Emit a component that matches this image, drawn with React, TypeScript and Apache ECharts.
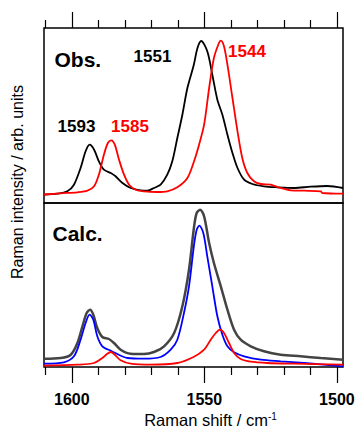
import React, { useEffect, useRef } from 'react';
import * as echarts from 'echarts';

const FONT = '"Liberation Sans", Arial, Helvetica, sans-serif';

const X_MIN = 1497.7;
const X_MAX = 1610.5;
const majorTicks = [1500, 1550, 1600];
const minorTicks = [1510, 1520, 1530, 1540, 1560, 1570, 1580, 1590, 1610];

// Observed (top panel)
const obsBlackShift = [1610.5, 1605.5, 1601.7, 1599.2, 1596.7, 1594.8, 1593.3, 1591.6, 1589.8, 1587.9, 1585.3, 1583.5, 1580.9, 1577.8, 1574, 1571.5, 1569, 1566.5, 1564, 1562.1, 1560.2, 1558.3, 1556.4, 1554, 1552.6, 1551.2, 1548.9, 1547, 1545.1, 1543.2, 1541.3, 1539.4, 1537.5, 1535, 1531.9, 1527.5, 1522.5, 1516.2, 1509.9, 1503.6, 1497.7];
const obsBlackInt = [8.3, 9.3, 11.7, 18.3, 35, 51.7, 58.3, 53.3, 41.7, 33.3, 30, 26.7, 20, 15, 12.7, 12.3, 15, 18.3, 28.3, 41.7, 65, 88.3, 115, 138, 155, 162, 151.7, 128.3, 103.3, 88.3, 68.3, 50, 35, 23.3, 19, 16.7, 15.7, 15, 16.3, 17, 15];

const obsRedShift = [1610.5, 1604.2, 1597.9, 1594.1, 1591.6, 1589.8, 1587.9, 1586.4, 1585.1, 1583.8, 1582.2, 1580.3, 1578.4, 1575.9, 1572.8, 1567.7, 1564, 1560.2, 1556.4, 1553.9, 1552, 1550.1, 1548.2, 1546.4, 1544.5, 1543.8, 1542.6, 1541.3, 1539.4, 1537.5, 1535.7, 1533.8, 1531.3, 1528.7, 1525, 1521.2, 1517.4, 1512.4, 1506.1, 1505.5, 1497.7];
const obsRedInt = [8.5, 9.7, 10.7, 12.3, 16.7, 28.3, 48.3, 60, 62.7, 58.3, 43.3, 28.3, 18.3, 13.3, 11.7, 11, 11.7, 15.7, 25, 41.7, 58.3, 78.3, 115, 145, 160, 162.3, 156.7, 138.3, 105, 71.7, 45, 30, 21.7, 19, 18.3, 15, 12.7, 12.3, 11.7, 10, 9.3];

// Calculated (bottom panel)
const calcTotalShift = [1610.5, 1604.2, 1600.4, 1597.9, 1596, 1594.4, 1593.1, 1591.9, 1590.4, 1588.5, 1586, 1584.1, 1581.6, 1577.8, 1572.8, 1569, 1565.2, 1561.4, 1558.3, 1555.8, 1553.9, 1552.9, 1551.6, 1550.1, 1548.2, 1546.4, 1543.8, 1541.3, 1538.8, 1536.3, 1532.5, 1527.5, 1521.2, 1513.7, 1506.1, 1497.7];
const calcTotalInt = [8.3, 9, 12.3, 24, 40.7, 54, 57.3, 52.3, 39, 30, 28, 24, 17.3, 13.3, 13, 15, 20.7, 34, 60.7, 97.3, 140, 154, 157.3, 150.7, 124, 104, 80.7, 57.3, 37.3, 27.3, 20.7, 15.7, 12.3, 10.7, 9, 7.3];

const calcBlueShift = [1610.5, 1603, 1599.2, 1596.7, 1594.8, 1593.3, 1591.9, 1590.4, 1588.5, 1585.3, 1579, 1572.8, 1566.5, 1562.7, 1560.2, 1557.7, 1555.8, 1553.9, 1552.9, 1551.9, 1550.4, 1548.9, 1547, 1545.1, 1543.2, 1541.3, 1538.8, 1535, 1528.7, 1521.2, 1512.4, 1497.7];
const calcBlueInt = [3.3, 4.7, 10.7, 27.3, 44, 52.3, 47.3, 30.7, 20.7, 16.3, 9, 8.3, 10, 17.3, 27.3, 54, 80.7, 122, 137.3, 141.3, 134, 110.7, 80.7, 50.7, 32.3, 20.7, 14.7, 10.7, 7.3, 5.7, 4, 0.7];

const calcRedShift = [1610.5, 1597.9, 1591.6, 1588.5, 1586.6, 1585.3, 1583.8, 1581.6, 1577.8, 1570.3, 1560.2, 1553.9, 1550.1, 1547.6, 1545.7, 1544.1, 1542.6, 1540.7, 1538.8, 1536.3, 1532.5, 1526.2, 1516.2, 1497.7];
const calcRedInt = [1.3, 2.3, 4, 9, 13.3, 15, 12.3, 6.7, 3.3, 2.3, 4, 10.3, 17.3, 27.3, 34, 37.3, 34, 24, 14, 8, 5.3, 4, 3.3, 2.3];

const peakLabelsObs = ['1593', '1585', '1551', '1544'];

const zip = (xs: number[], ys: number[]) => xs.map((x, i) => [x, ys[i]]);

function xAxisCfg(gridIndex: number, position: 'top' | 'bottom', ticks: number[], len: number, withLabels: boolean) {
  return {
    type: 'value',
    gridIndex,
    position,
    min: X_MIN,
    max: X_MAX,
    inverse: true,
    axisLine: { show: false, onZero: false },
    splitLine: { show: false },
    axisTick: {
      show: true,
      inside: false,
      length: len,
      customValues: ticks,
      lineStyle: { color: '#000', width: 1.2 },
    },
    axisLabel: {
      show: withLabels,
      customValues: ticks,
      margin: 24,
      color: '#000',
      fontFamily: FONT,
      fontWeight: 'bold',
      fontSize: 16,
      formatter: (v: number) => String(v),
    },
  };
}

export default function App() {
  const ref = useRef<HTMLDivElement>(null);
  useEffect(() => {
    if (!ref.current) return;
    const chart = echarts.init(ref.current, undefined, { renderer: 'svg' });
    const text = (t: string, x: number, y: number, size: number, color: string, align = 'center') => ({
      type: 'text',
      x,
      y,
      style: {
        text: t,
        fill: color,
        fontFamily: FONT,
        fontWeight: 'bold',
        fontSize: size,
        align,
        verticalAlign: 'middle',
      },
    });
    chart.setOption({
      animation: false,
      backgroundColor: '#fff',
      grid: [
        { left: 44, right: 12, top: 28, height: 175, show: true, borderColor: '#000', borderWidth: 1.5, containLabel: false, outerBoundsMode: 'none' },
        { left: 44, right: 12, top: 203, height: 164, show: true, borderColor: '#000', borderWidth: 1.5, containLabel: false, outerBoundsMode: 'none' },
      ],
      xAxis: [
        xAxisCfg(0, 'top', majorTicks, 16, false),
        xAxisCfg(0, 'top', minorTicks, 8, false),
        xAxisCfg(1, 'bottom', majorTicks, 16, true),
        xAxisCfg(1, 'bottom', minorTicks, 8, false),
      ],
      yAxis: [
        { type: 'value', gridIndex: 0, min: 0, max: 175, show: false },
        { type: 'value', gridIndex: 1, min: 0, max: 164, show: false },
      ],
      series: [
        { type: 'line', xAxisIndex: 0, yAxisIndex: 0, data: zip(obsBlackShift, obsBlackInt), showSymbol: false, smooth: 0.3, lineStyle: { color: '#000', width: 1.8 } },
        { type: 'line', xAxisIndex: 0, yAxisIndex: 0, data: zip(obsRedShift, obsRedInt), showSymbol: false, smooth: 0.3, lineStyle: { color: '#ff0000', width: 1.8 } },
        { type: 'line', xAxisIndex: 2, yAxisIndex: 1, data: zip(calcTotalShift, calcTotalInt), showSymbol: false, smooth: 0.3, lineStyle: { color: '#444444', width: 2.5 } },
        { type: 'line', xAxisIndex: 2, yAxisIndex: 1, data: zip(calcBlueShift, calcBlueInt), showSymbol: false, smooth: 0.3, lineStyle: { color: '#0000ff', width: 1.8 } },
        { type: 'line', xAxisIndex: 2, yAxisIndex: 1, data: zip(calcRedShift, calcRedInt), showSymbol: false, smooth: 0.3, lineStyle: { color: '#ff0000', width: 1.8 } },
      ],
      graphic: [
        text('Obs.', 54.5, 59.5, 21, '#000', 'left'),
        text('Calc.', 52.5, 233.5, 21, '#000', 'left'),
        text(peakLabelsObs[0], 76.5, 126.7, 17, '#000'),
        text(peakLabelsObs[1], 130, 126.7, 17, '#ff0000'),
        text(peakLabelsObs[2], 152.5, 56, 17, '#000'),
        text(peakLabelsObs[3], 247, 51.7, 17, '#ff0000'),
        {
          type: 'text',
          x: 210.5,
          y: 420,
          style: {
            text: 'Raman shift / cm{sup|-1}',
            fill: '#000',
            fontFamily: FONT,
            fontSize: 16.5,
            align: 'center',
            verticalAlign: 'middle',
            rich: {
              sup: { fontSize: 10, verticalAlign: 'top', fontFamily: FONT, fill: '#000' },
            },
          },
        },
        {
          type: 'text',
          x: 17.5,
          y: 182,
          rotation: Math.PI / 2,
          style: {
            text: 'Raman intensity / arb. units',
            fill: '#000',
            fontFamily: FONT,
            fontSize: 16,
            align: 'center',
            verticalAlign: 'middle',
          },
        },
      ],
    });
    return () => chart.dispose();
  }, []);
  return <div ref={ref} style={{ position: 'fixed', left: 0, top: 0, width: 355, height: 428 }} />;
}
